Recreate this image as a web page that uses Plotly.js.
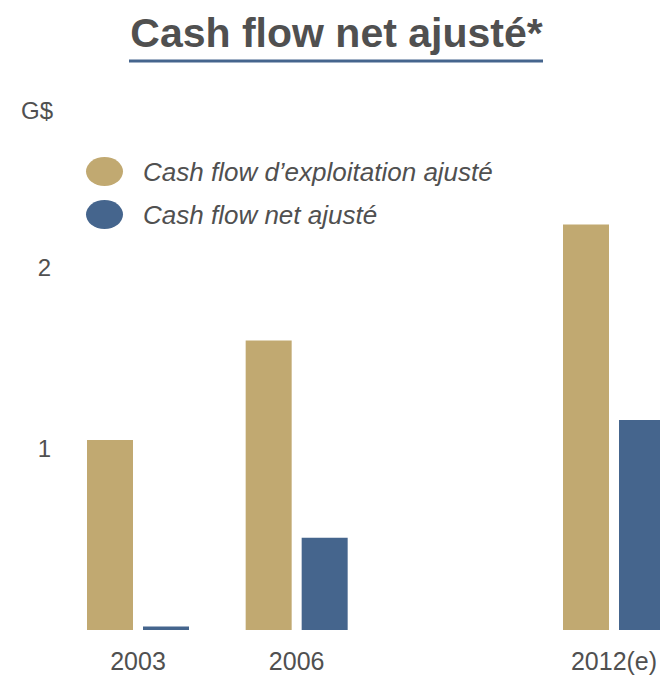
<!DOCTYPE html>
<html>
<head>
<meta charset="utf-8">
<script src="https://cdn.plot.ly/plotly-3.0.1.min.js"></script>
<style>html,body{margin:0;padding:0;background:#fff;}#chart{width:660px;height:676px;}</style>
</head>
<body>
<div id="chart"></div>
<script>
// Data
const years = [2003, 2006, 2012];
const yearLabels = ["2003", "2006", "2012(e)"];
const exploitation = [1.05, 1.60, 2.24];
const netAjuste = [0.02, 0.51, 1.16];
const seriesNames = ["Cash flow d\u2019exploitation ajusté", "Cash flow net ajusté"];
const yTicks = [1, 2];

const GOLD = "#C1A971";
const BLUE = "#45658D";
const TXT = "#505050";
const FONT = "Liberation Sans, Arial, sans-serif";

// Layout geometry (pixels)
const W = 660, H = 676;
const mL = 52, mR = 0, mT = 150, mB = 46;
const plotW = W - mL - mR, plotH = H - mT - mB;
const px = x => (x - mL) / plotW;
const py = y => (H - mB - y) / plotH;

const pxPerYear = 52.89;
const barW = 46 / pxPerYear;
const xRange = [2003 - (138 - mL) / pxPerYear, 2012 + (W - mR - 614) / pxPerYear];
const yRange = [0, plotH / 181];

const traces = [
  {type: "bar", x: years, y: exploitation, name: seriesNames[0],
   marker: {color: GOLD}, width: barW, offset: -51 / pxPerYear, hoverinfo: "skip"},
  {type: "bar", x: years, y: netAjuste, name: seriesNames[1],
   marker: {color: BLUE}, width: barW, offset: 5 / pxPerYear, hoverinfo: "skip"}
];

const layout = {
  width: W, height: H,
  margin: {l: mL, r: mR, t: mT, b: mB, pad: 0},
  paper_bgcolor: "#fff", plot_bgcolor: "#fff",
  showlegend: false,
  barmode: "overlay",
  title: {
    text: "<b>Cash flow net ajusté*</b>",
    font: {family: FONT, size: 41, color: TXT},
    x: 336.5 / W, xref: "container", xanchor: "center",
    y: 1 - 33 / H, yref: "container", yanchor: "middle"
  },
  xaxis: {
    type: "linear", range: xRange, tickvals: years, ticktext: yearLabels,
    showgrid: false, zeroline: false, showline: false, ticks: "",
    ticklabelstandoff: 14,
    tickfont: {family: FONT, size: 25, color: TXT}, automargin: false,
    fixedrange: true
  },
  yaxis: {
    range: yRange, tickvals: yTicks, ticktext: yTicks.map(String),
    showgrid: false, zeroline: false, showline: false, ticks: "",
    tickfont: {family: FONT, size: 24, color: TXT}, automargin: false,
    fixedrange: true
  },
  shapes: [
    {type: "line", xref: "paper", yref: "paper", x0: px(129), x1: px(543), y0: py(61), y1: py(61),
     line: {color: BLUE, width: 3}},
    {type: "circle", xref: "paper", yref: "paper", xsizemode: "pixel", ysizemode: "pixel",
     xanchor: px(104.5), yanchor: py(171.5), x0: -18.5, x1: 18.5, y0: -14.5, y1: 14.5,
     fillcolor: GOLD, line: {width: 0}},
    {type: "circle", xref: "paper", yref: "paper", xsizemode: "pixel", ysizemode: "pixel",
     xanchor: px(104.5), yanchor: py(214.5), x0: -18.5, x1: 18.5, y0: -14.5, y1: 14.5,
     fillcolor: BLUE, line: {width: 0}}
  ],
  annotations: [
    {text: "G$", xref: "paper", yref: "paper", x: px(37), y: py(111), xanchor: "center", yanchor: "middle",
     showarrow: false, font: {family: FONT, size: 24, color: TXT}},
    {text: seriesNames[0], xref: "paper", yref: "paper", x: px(141), y: py(172), xanchor: "left", yanchor: "middle",
     showarrow: false, font: {family: FONT, size: 26, color: TXT, style: "italic"}},
    {text: seriesNames[1], xref: "paper", yref: "paper", x: px(141), y: py(215), xanchor: "left", yanchor: "middle",
     showarrow: false, font: {family: FONT, size: 26, color: TXT, style: "italic"}}
  ]
};

Plotly.newPlot("chart", traces, layout, {displayModeBar: false, staticPlot: true});
</script>
</body>
</html>
